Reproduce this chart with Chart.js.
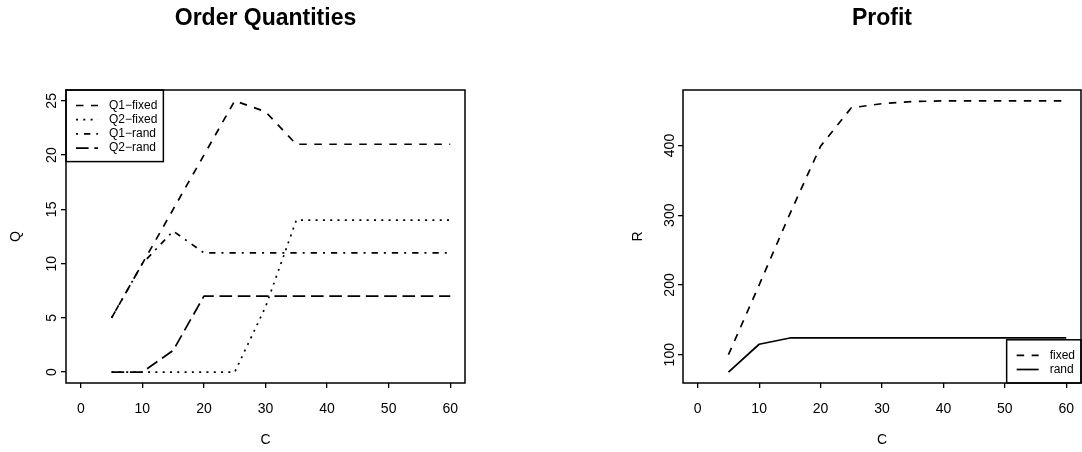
<!DOCTYPE html>
<html>
<head>
<meta charset="utf-8">
<script src="https://cdn.jsdelivr.net/npm/chart.js@4.4.1/dist/chart.umd.min.js"></script>
<style>
  html, body { margin: 0; padding: 0; background: #fff; }
  #wrap { position: relative; width: 1082px; height: 452px; }
  canvas { position: absolute; top: 0; }
</style>
</head>
<body>
<div id="wrap">
  <canvas id="qty" width="541" height="452" style="left:0"></canvas>
  <canvas id="profit" width="541" height="452" style="left:541px"></canvas>
</div>
<script>
// unit cost C on the x axis
const cost = [5, 10, 15, 20, 25, 30, 35, 40, 45, 50, 55, 60];

// order quantities
const q1Fixed = [5, 10, 15, 20, 25, 24, 21, 21, 21, 21, 21, 21];
const q2Fixed = [0, 0, 0, 0, 0, 6, 14, 14, 14, 14, 14, 14];
const q1Rand = [5, 10, 13, 11, 11, 11, 11, 11, 11, 11, 11, 11];
const q2Rand = [0, 0, 2, 7, 7, 7, 7, 7, 7, 7, 7, 7];

// profit
const profitFixed = [100, 200, 302, 399, 454, 460, 463, 464, 464, 464, 464, 464];
const profitRand = [75, 115, 124, 124, 124, 124, 124, 124, 124, 124, 124, 124];

const costTicks = [0, 10, 20, 30, 40, 50, 60];
const qtyTicks = [0, 5, 10, 15, 20, 25];
const profitTicks = [100, 200, 300, 400];

// R line types
const LTY = {
  solid: [],
  dashed: [7.5, 7.5],
  dotted: [2, 5.3],
  dotdash: [2, 6, 6.3, 6],
  longdash: [12.6, 5.7]
};

Chart.defaults.font.family = '"Liberation Sans", Arial, Helvetica, sans-serif';
Chart.defaults.color = '#000';

// R pads the axis range by 4% on each side
function rRange(lo, hi) {
  const d = (hi - lo) * 0.04;
  return [lo - d, hi + d];
}

function series(label, values, dash) {
  return {
    label: label,
    data: cost.map((c, i) => ({ x: c, y: values[i] })),
    borderColor: '#000',
    borderWidth: 1.7,
    borderDash: dash,
    borderCapStyle: 'butt',
    borderJoinStyle: 'round',
    pointRadius: 0,
    fill: false,
    tension: 0
  };
}

const frame = {
  id: 'frame',
  afterDraw(chart) {
    const { ctx, chartArea: a } = chart;
    ctx.save();
    ctx.lineWidth = 1.5;
    ctx.strokeStyle = '#000';
    ctx.strokeRect(a.left, a.top, a.right - a.left, a.bottom - a.top);
    ctx.restore();
  }
};

// legend with a box, placed in a corner of the plot area like R's legend()
const boxLegend = {
  id: 'boxLegend',
  afterDatasetsDraw(chart, args, opts) {
    const ctx = chart.ctx, a = chart.chartArea;
    const sets = chart.data.datasets;
    ctx.save();
    ctx.font = '12px "Liberation Sans", Arial, sans-serif';
    const textW = Math.max(...sets.map(d => ctx.measureText(d.label).width));
    const w = 43 + textW + 6;
    const h = 15.5 + (sets.length - 1) * 14.2 + 13.5;
    const x = opts.corner === 'bottomright' ? a.right - w : a.left;
    const y = opts.corner === 'bottomright' ? a.bottom - h : a.top;
    ctx.fillStyle = '#fff';
    ctx.fillRect(x, y, w, h);
    ctx.lineWidth = 1.5;
    ctx.strokeStyle = '#000';
    ctx.strokeRect(x, y, w, h);
    sets.forEach((d, i) => {
      const ly = y + 15.5 + i * 14.2;
      ctx.setLineDash(d.borderDash || []);
      ctx.lineWidth = d.borderWidth;
      ctx.beginPath();
      ctx.moveTo(x + 10, ly);
      ctx.lineTo(x + 32, ly);
      ctx.stroke();
      ctx.setLineDash([]);
      ctx.fillStyle = '#000';
      ctx.textAlign = 'left';
      ctx.textBaseline = 'middle';
      ctx.fillText(d.label, x + 43, ly);
    });
    ctx.restore();
  }
};

function makeChart(id, cfg) {
  const xr = rRange(0, 60);
  const all = cfg.datasets.flatMap(d => d.data.map(p => p.y));
  const yr = rRange(Math.min(...all), Math.max(...all));
  const tickGrid = { drawOnChartArea: false, drawTicks: true, tickLength: 5, color: '#000', lineWidth: 1.3 };

  return new Chart(document.getElementById(id), {
    type: 'line',
    data: { datasets: cfg.datasets },
    plugins: [boxLegend, frame],
    options: {
      responsive: false,
      animation: false,
      events: [],
      layout: { padding: { left: 0, top: 0, right: cfg.padRight, bottom: 0 } },
      scales: {
        x: {
          type: 'linear',
          min: xr[0],
          max: xr[1],
          afterBuildTicks: s => { s.ticks = costTicks.map(v => ({ value: v })); },
          afterFit: s => { s.height = 69; s.paddingLeft = 0; s.paddingRight = 0; },
          grid: tickGrid,
          border: { display: false },
          ticks: { color: '#000', font: { size: 14 }, padding: 12.5, maxRotation: 0, autoSkip: false },
          title: { display: true, text: 'C', color: '#000', font: { size: 14 }, padding: { top: 0, bottom: 3.6 } }
        },
        y: {
          type: 'linear',
          min: yr[0],
          max: yr[1],
          afterBuildTicks: s => { s.ticks = cfg.yTicks.map(v => ({ value: v })); },
          afterFit: s => { s.width = cfg.yWidth; s.paddingTop = 0; s.paddingBottom = 0; },
          grid: tickGrid,
          border: { display: false },
          ticks: {
            color: '#000', font: { size: 14 }, padding: cfg.yTickPad,
            minRotation: 90, maxRotation: 90, crossAlign: 'center', autoSkip: false
          },
          title: { display: true, text: cfg.yTitle, color: '#000', font: { size: 14 }, padding: { top: cfg.yTitlePad, bottom: 0 } }
        }
      },
      plugins: {
        legend: { display: false },
        tooltip: { enabled: false },
        title: {
          display: true,
          text: cfg.title,
          fullSize: false,
          color: '#000',
          font: { size: 23, weight: 'bold' },
          padding: { top: 4.7, bottom: 57.7 }
        },
        boxLegend: { corner: cfg.legendCorner }
      }
    }
  });
}

makeChart('qty', {
  title: 'Order Quantities',
  yTitle: 'Q',
  yTicks: qtyTicks,
  yWidth: 66,
  padRight: 76,
  yTickPad: 1.2,
  yTitlePad: 7.6,
  legendCorner: 'topleft',
  datasets: [
    series('Q1\u2212fixed', q1Fixed, LTY.dashed),
    series('Q2\u2212fixed', q2Fixed, LTY.dotted),
    series('Q1\u2212rand', q1Rand, LTY.dotdash),
    series('Q2\u2212rand', q2Rand, LTY.longdash)
  ]
});

makeChart('profit', {
  title: 'Profit',
  yTitle: 'R',
  yTicks: profitTicks,
  yWidth: 142,
  padRight: 1,
  yTickPad: -3.7,
  yTitlePad: 88.6,
  legendCorner: 'bottomright',
  datasets: [
    series('fixed', profitFixed, LTY.dashed),
    series('rand', profitRand, LTY.solid)
  ]
});
</script>
</body>
</html>
